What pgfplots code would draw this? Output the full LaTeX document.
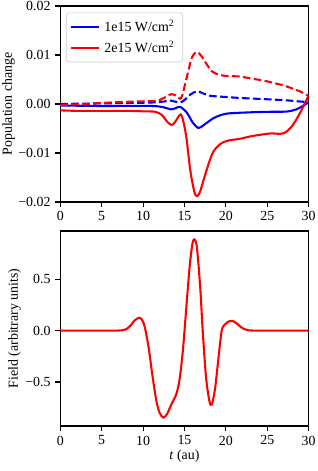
\documentclass[border=0pt]{standalone}
\usepackage{fontspec}
\setmainfont{Liberation Serif}
\usepackage{pgfplots}
\pgfplotsset{compat=1.18}
\definecolor{mplblue}{RGB}{0,0,255}
\definecolor{mplred}{RGB}{255,0,0}
\pgfplotsset{
  common/.style={
    scale only axis,
    width=178.85pt,
    xmin=0, xmax=30,
    xtick={0,5,10,15,20,25,30},
    tick pos=left,
    tick align=outside,
    major tick length=3.5pt,
    axis line style={line width=0.8pt},
    every tick/.style={line width=0.8pt, black},
    /pgf/number format/assume math mode=true,
    tick label style={font=\fontsize{10}{12}\selectfont},
    label style={font=\fontsize{10}{12}\selectfont},
    every axis plot/.append style={line width=1.5pt},
  }
}
\begin{document}
\begin{tikzpicture}
\begin{axis}[common,
  at={(43.4pt,193.7pt)}, anchor=south west,
  height=141.1pt,
  ymin=-0.02, ymax=0.02,
  ytick={-0.02,-0.01,0,0.01,0.02},
  yticklabels={−0.02,−0.01,0.00,0.01,0.02},
  ylabel={Population change},
  ylabel style={at={(axis description cs:-0.208,0.5)}, anchor=center},
  legend cell align=left,
  legend image code/.code={\draw[#1] (0pt,0pt) -- (20pt,0pt);},
  legend style={at={(0.023,0.966)}, anchor=north west, draw=black!20,
    rounded corners=2pt, inner xsep=3pt, inner ysep=3pt,
    nodes={inner xsep=3pt, inner ysep=2.2pt},
    row sep=1pt, font=\fontsize{10}{12}\selectfont},
]
\addplot[mplblue, smooth, tension=0.5] coordinates {
(0,-0.0003)(4,-0.0004)(8,-0.0004)(11,-0.0004)(12.3,-0.0006)(13.4,-0.0011)(14.0,-0.0008)(14.5,-0.0006)(15.3,-0.0018)(16.0,-0.0038)(16.7,-0.0049)(17.4,-0.0042)(18.5,-0.0029)(19.5,-0.0022)(20.5,-0.0019)(23,-0.0017)(25,-0.0016)(27.3,-0.00155)(28.5,-0.0011)(29.5,-0.0002)(30,0.0004)};
\addlegendentry{1e15 W/cm\textsuperscript{2}}
\addplot[mplred, smooth, tension=0.5] coordinates {
(0,-0.0013)(2,-0.0014)(5,-0.0014)(8,-0.0014)(10,-0.0015)(11.5,-0.0016)(12.3,-0.0023)(12.9,-0.0036)(13.45,-0.0043)(13.9,-0.0036)(14.4,-0.0023)(14.7,-0.0025)(15.2,-0.0065)(15.7,-0.0135)(16.2,-0.0180)(16.55,-0.0188)(16.9,-0.0178)(17.4,-0.0150)(18.0,-0.0118)(18.5,-0.0097)(19.3,-0.0082)(20.2,-0.0075)(21.7,-0.0071)(23,-0.0066)(24.1,-0.0063)(25.5,-0.0060)(26.5,-0.0061)(27.2,-0.0058)(27.9,-0.0047)(28.5,-0.0032)(29.0,-0.0017)(29.5,0.0000)(30,0.0017)};
\addlegendentry{2e15 W/cm\textsuperscript{2}}
\addplot[mplblue, dashed, dash pattern=on 5.5pt off 2.4pt, smooth, tension=0.5, forget plot] coordinates {
(0,0.0000)(4,0.0001)(8,0.0002)(11,0.0003)(12.5,0.0005)(13.3,0.0007)(14.4,0.0003)(15.0,0.0008)(15.7,0.0019)(16.5,0.0026)(17.2,0.0022)(18.0,0.0017)(18.5,0.0016)(20.2,0.0014)(22,0.0012)(24.5,0.0010)(27.3,0.00075)(29,0.0005)(30,0.0004)};
\addplot[mplred, dashed, dash pattern=on 5.5pt off 2.4pt, smooth, tension=0.5, forget plot] coordinates {
(0,-0.0002)(3,0.0000)(6,0.0003)(9,0.0005)(11,0.0006)(12,0.0008)(12.6,0.0013)(13.4,0.0020)(14.0,0.0017)(14.6,0.0012)(15.2,0.0049)(15.8,0.0090)(16.2,0.0103)(16.55,0.0106)(17.0,0.0099)(17.5,0.0086)(18.3,0.0067)(19.3,0.0059)(20.3,0.0057)(21.7,0.0056)(23,0.0052)(24.5,0.0048)(26,0.0042)(27.3,0.0036)(28.9,0.0026)(29.5,0.0021)(30,0.0016)};
\end{axis}
\begin{axis}[common,
  at={(43.4pt,32.4pt)}, anchor=south west,
  height=140.4pt,
  ymin=-0.927, ymax=0.967,
  ytick={-0.5,0,0.5},
  yticklabels={−0.5,0.0,0.5},
  ylabel={Field (arbitrary units)},
  ylabel style={at={(axis description cs:-0.184,0.5)}, anchor=center},
  xlabel={\textit{t} (au)},
  xlabel style={at={(axis description cs:0.5,-0.157)}, anchor=center},
]
\addplot[mplred, smooth, tension=0.5] coordinates {
(0,0)(3,0)(6,0)(7,0)(7.5,0.003)(8,0.015)(8.5,0.05)(9,0.1)(9.6,0.125)(10,0.085)(10.3,0)(10.7,-0.18)(11.1,-0.42)(11.6,-0.68)(12.0,-0.80)(12.45,-0.845)(12.9,-0.81)(13.4,-0.72)(14.0,-0.62)(14.4,-0.48)(14.8,-0.2)(15.2,0.2)(15.6,0.6)(15.95,0.84)(16.2,0.885)(16.5,0.81)(16.9,0.42)(17.2,0.0)(17.6,-0.45)(18.0,-0.68)(18.3,-0.72)(18.7,-0.56)(19.1,-0.27)(19.5,0.0)(19.9,0.06)(20.4,0.09)(20.8,0.094)(21.3,0.07)(21.8,0.035)(22.3,0.012)(22.8,0.002)(23.5,0)(26,0)(30,0)};
\end{axis}
\pgfresetboundingbox
\useasboundingbox (0,0) rectangle (228.96pt,339.12pt);
\end{tikzpicture}
\end{document}
